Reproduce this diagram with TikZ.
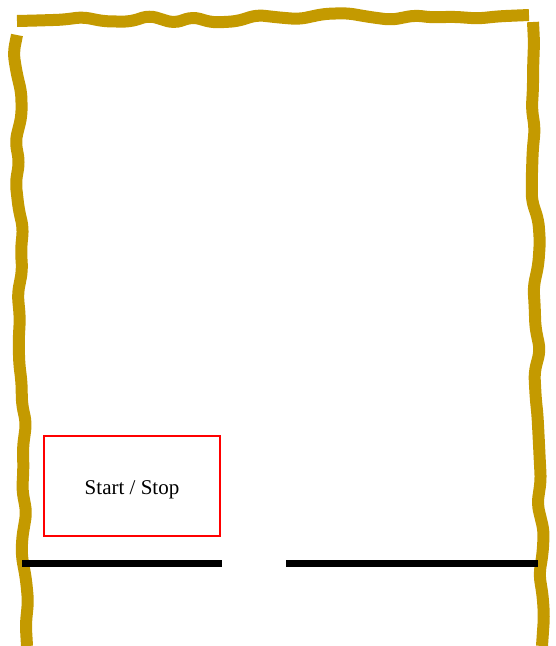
\documentclass[tikz,border=0pt]{standalone}
\usepackage{fontspec}
\setmainfont{Liberation Serif}
\usetikzlibrary{decorations.pathmorphing,positioning}
\definecolor{ochre}{RGB}{196,154,0}
\tikzset{
  wobbly/.style={draw=ochre, line width=12pt, line cap=butt, decorate,
    decoration={random steps, segment length=22pt, amplitude=4pt}, rounded corners=7pt},
  terminal/.style={draw=red, line width=1.6pt, minimum width=176pt, minimum height=100pt,
    text height=20.5pt, text depth=4.5pt, font=\fontsize{21}{25}\selectfont},
  rule/.style={line width=7pt}
}

\begin{document}
\begin{tikzpicture}[x=1pt,y=-1pt]
  \pgfmathsetseed{7}
  \useasboundingbox (0,0) rectangle (555,646);
  % Frame (three sides)
  \draw[wobbly] (27,646) -- (17,35);
  \draw[wobbly] (17,21) -- (529,15);
  \draw[wobbly] (533,22) -- (542,646);
  % Terminal box
  \node[terminal] (start) at (132,486) {Start / Stop};
  % Floor rules
  \coordinate (ruleAw) at (22,563);
  \coordinate (ruleAe) at (222,563);
  \coordinate (ruleBw) at (286,563);
  \coordinate (ruleBe) at (538,563);
  \draw[rule] (ruleAw) -- (ruleAe);
  \draw[rule] (ruleBw) -- (ruleBe);
\end{tikzpicture}
\end{document}
